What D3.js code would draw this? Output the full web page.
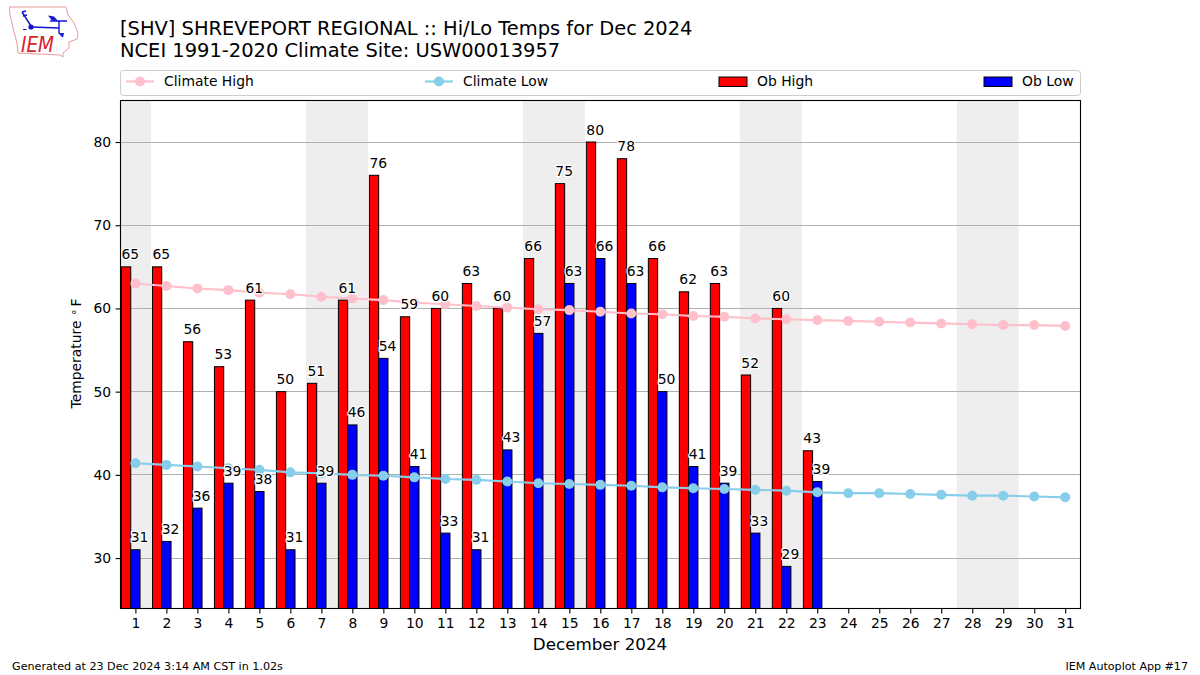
<!DOCTYPE html>
<html>
<head>
<meta charset="utf-8">
<script src="https://cdn.jsdelivr.net/npm/d3@7"></script>
<style>
  html, body { margin: 0; padding: 0; background: #fff; }
  svg { display: block; }
  text { font-family: "DejaVu Sans", sans-serif; fill: #000; }
</style>
</head>
<body>
<div id="plot"></div>
<script>
// values
var days = d3.range(1, 32);
var obHigh = [65, 65, 56, 53, 61, 50, 51, 61, 76, 59, 60, 63, 60, 66, 75, 80, 78, 66, 62, 63, 52, 60, 42.9];
var obLow = [31, 32, 36, 39, 38, 31, 39, 46, 54, 41, 33, 31, 43, 57, 63, 66, 63, 50, 41, 39, 33, 29, 39.2];
var climateHigh = [63.0, 62.7, 62.4, 62.2, 61.9, 61.7, 61.4, 61.2, 61.0, 60.7, 60.5, 60.3, 60.1, 59.9, 59.8, 59.6,
                   59.4, 59.3, 59.1, 59.0, 58.8, 58.7, 58.6, 58.5, 58.4, 58.3, 58.2, 58.1, 58.0, 58.0, 57.9];
var climateLow = [41.4, 41.2, 41.0, 40.8, 40.6, 40.3, 40.2, 40.0, 39.9, 39.7, 39.5, 39.4, 39.2, 39.0, 38.9, 38.8,
                  38.7, 38.5, 38.4, 38.3, 38.2, 38.1, 37.9, 37.8, 37.8, 37.7, 37.6, 37.5, 37.5, 37.4, 37.3];
var weekends = [[0.5, 1.5], [6.5, 8.5], [13.5, 15.5], [20.5, 22.5], [27.5, 29.5]];
var yTicks = [30, 40, 50, 60, 70, 80];

var titleLines = ["[SHV] SHREVEPORT REGIONAL :: Hi/Lo Temps for Dec 2024", "NCEI 1991-2020 Climate Site: USW00013957"];
var legendNames = ["Climate High", "Climate Low", "Ob High", "Ob Low"];
var legendColors = ["pink", "skyblue", "red", "blue"];
var legendKinds = ["line", "line", "bar", "bar"];
var legendStarts = [126, 425, 719, 984];

var plot = {left: 120.5, right: 1080.5, top: 100.5, bottom: 608.5};
var barWidth = 0.3;

var svg = d3.select("#plot").append("svg")
  .attr("width", 1200)
  .attr("height", 675);

var x = d3.scaleLinear().domain([0.5, 31.5]).range([119.9, 1080.7]);
var y = d3.scaleLinear().domain([24, 85.05]).range([plot.bottom, plot.top]);

// weekend bands
svg.append("g").selectAll("rect")
  .data(weekends)
  .join("rect")
  .attr("x", d => Math.max(x(d[0]), plot.left))
  .attr("y", plot.top)
  .attr("width", d => x(d[1]) - Math.max(x(d[0]), plot.left))
  .attr("height", plot.bottom - plot.top)
  .attr("fill", "#eeeeee");

// grid
svg.append("g").selectAll("line")
  .data(yTicks)
  .join("line")
  .attr("x1", plot.left)
  .attr("x2", plot.right)
  .attr("y1", d => Math.round(y(d)) - 0.5)
  .attr("y2", d => Math.round(y(d)) - 0.5)
  .attr("stroke", "#b0b0b0")
  .attr("stroke-width", 1);

// bars
function drawBars(values, offset, color) {
  svg.append("g").selectAll("rect")
    .data(values)
    .join("rect")
    .attr("x", (d, i) => x(days[i] + offset))
    .attr("y", d => y(d) - 0.5)
    .attr("width", x(barWidth) - x(0))
    .attr("height", d => plot.bottom - y(d) + 0.5)
    .attr("fill", color)
    .attr("stroke", "#000")
    .attr("stroke-width", 1);
}
drawBars(obHigh, -0.45, "red");
drawBars(obLow, -0.15, "blue");

// climate lines
function drawClimate(values, color) {
  var line = d3.line().x((d, i) => x(days[i])).y(d => y(d) - 0.5);
  svg.append("path")
    .attr("d", line(values))
    .attr("fill", "none")
    .attr("stroke", color)
    .attr("stroke-width", 2.1);
  svg.append("g").selectAll("circle")
    .data(values)
    .join("circle")
    .attr("cx", (d, i) => x(days[i]))
    .attr("cy", d => y(d) - 0.5)
    .attr("r", 5)
    .attr("fill", color);
}
drawClimate(climateHigh, "pink");
drawClimate(climateLow, "skyblue");

// value labels with a white halo
function drawLabels(values, offset) {
  svg.append("g").selectAll("text")
    .data(values)
    .join("text")
    .attr("x", (d, i) => x(days[i] + offset))
    .attr("y", d => y(d) - 8)
    .attr("font-size", 13.9)
    .attr("stroke", "#fff")
    .attr("stroke-width", 2.5)
    .attr("paint-order", "stroke")
    .text(d => d3.format(".0f")(d));
}
drawLabels(obHigh, -0.45);
drawLabels(obLow, -0.15);

// frame
svg.append("rect")
  .attr("x", plot.left)
  .attr("y", plot.top)
  .attr("width", plot.right - plot.left)
  .attr("height", plot.bottom - plot.top)
  .attr("fill", "none")
  .attr("stroke", "#000")
  .attr("stroke-width", 1.1);

// axes
var xAxis = svg.append("g")
  .attr("transform", `translate(0,${plot.bottom})`)
  .call(d3.axisBottom(x).tickValues(days).tickFormat(d3.format("d")).tickSize(4.9).tickPadding(4.5));
var yAxis = svg.append("g")
  .attr("transform", `translate(${plot.left},-0.5)`)
  .call(d3.axisLeft(y).tickValues(yTicks).tickFormat(d3.format("d")).tickSize(4.9).tickPadding(4.5));
[xAxis, yAxis].forEach(function(a) {
  a.select(".domain").remove();
  a.selectAll("text").attr("font-size", 13.9).attr("font-family", "DejaVu Sans").attr("fill", "#000");
  a.selectAll("line").attr("stroke", "#000").attr("stroke-width", 1.1);
});

// titles
svg.append("g").selectAll("text")
  .data(titleLines)
  .join("text")
  .attr("x", 120)
  .attr("y", (d, i) => 35 + i * 22)
  .attr("font-size", 19.45)
  .text(d => d);

svg.append("text")
  .attr("x", 600)
  .attr("y", 649.5)
  .attr("text-anchor", "middle")
  .attr("font-size", 16.7)
  .text("December 2024");

var yLabel = svg.append("text")
  .attr("transform", "translate(80.5,353.5) rotate(-90)")
  .attr("text-anchor", "middle")
  .attr("font-size", 13.9)
  .text("Temperature ");
yLabel.append("tspan").attr("dx", 1).attr("font-size", 11).attr("dy", -1).text("\u00B0");
yLabel.append("tspan").attr("dx", 3).attr("dy", 1).text("F");

svg.append("text")
  .attr("x", 12)
  .attr("y", 670)
  .attr("font-size", 11.15)
  .text("Generated at 23 Dec 2024 3:14 AM CST in 1.02s");

svg.append("text")
  .attr("x", 1188)
  .attr("y", 670)
  .attr("text-anchor", "end")
  .attr("font-size", 11.1)
  .text("IEM Autoplot App #17");

// legend
svg.append("rect")
  .attr("x", plot.left)
  .attr("y", 70.5)
  .attr("width", plot.right - plot.left)
  .attr("height", 25)
  .attr("rx", 3)
  .attr("fill", "#fff")
  .attr("stroke", "#cccccc");

var legendG = svg.append("g").selectAll("g")
  .data(legendNames)
  .join("g")
  .attr("transform", (d, i) => `translate(${legendStarts[i]},81.5)`);

legendG.filter((d, i) => legendKinds[i] === "line").each(function(d) {
  var c = legendColors[legendNames.indexOf(d)];
  var g = d3.select(this);
  g.append("line").attr("x1", 0).attr("x2", 28).attr("stroke", c).attr("stroke-width", 2.1);
  g.append("circle").attr("cx", 14).attr("r", 5).attr("fill", c);
});
legendG.filter((d, i) => legendKinds[i] === "bar").append("rect")
  .attr("x", 0).attr("y", -4.5)
  .attr("width", 28).attr("height", 9.5)
  .attr("fill", d => legendColors[legendNames.indexOf(d)])
  .attr("stroke", "#000");
legendG.append("text")
  .attr("x", 38)
  .attr("y", 4.7)
  .attr("font-size", 13.9)
  .text(d => d);

// IEM logo
var logo = svg.append("g");
logo.append("path")
  .attr("d", "M9.5,7 L66,7 L68,15 L74,23 L78,33 L77,39 L69,42 L69,48 L63,53 L63,57 L60,55 L18,53 L17,43 L13,28 L10,15 Z")
  .attr("fill", "none")
  .attr("stroke", "#e79a9a")
  .attr("stroke-width", 1);
logo.append("path")
  .attr("d", "M31,27 L59,28 M50,21 L67,21 M59,21 L59,33 L63,37 M22,12 L31,26 M22,12 L26,11 M23,16 L27,15")
  .attr("fill", "none")
  .attr("stroke", "#1414d2")
  .attr("stroke-width", 1.4);
logo.append("path")
  .attr("d", "M48,15.5 L54,16.5 L58,21 L52,20.5 Z")
  .attr("fill", "#1414d2");
logo.append("circle")
  .attr("cx", 31).attr("cy", 27).attr("r", 2.6)
  .attr("fill", "#1414d2");
logo.append("path")
  .attr("d", "M23,29 L26,29 L27,30 L23,30 Z M60,33 L64,33 L63,37 Z")
  .attr("fill", "#1414d2");
logo.append("text")
  .attr("x", 21)
  .attr("y", 52)
  .attr("font-family", "Liberation Serif")
  .attr("font-style", "italic")
  .attr("font-size", 21)
  .attr("textLength", 33)
  .attr("lengthAdjust", "spacingAndGlyphs")
  .style("fill", "#d8232a")
  .text("IEM");
</script>
</body>
</html>
